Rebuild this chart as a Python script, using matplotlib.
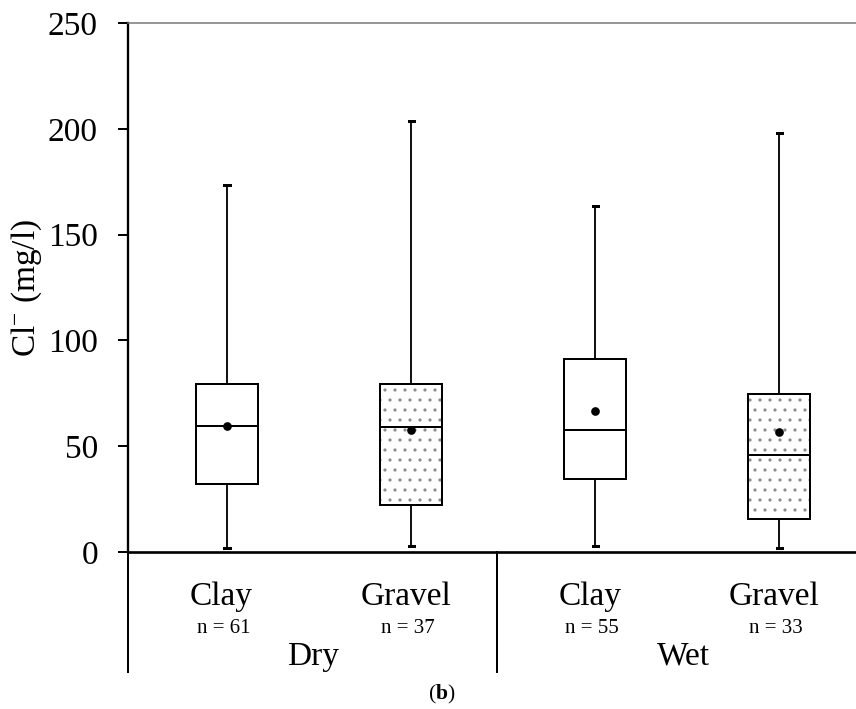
import matplotlib
matplotlib.use('Agg')
from matplotlib import pyplot as plt
import matplotlib.transforms as mtransforms
from matplotlib.patches import PathPatch

# box statistics (Cl- in mg/l)
categories = ['Clay', 'Gravel', 'Clay', 'Gravel']
n_values = [61, 37, 55, 33]
groups = ['Dry', 'Wet']
whis_low = [2, 3, 3, 2]
q1 = [32, 22, 34.5, 15.6]
medians = [59.5, 59, 57.7, 45.8]
q3 = [79.4, 79.4, 91, 74.7]
whis_high = [173.4, 203.7, 163.5, 198]
means = [59.5, 57.7, 66.6, 56.7]
hatched = [False, True, False, True]
y_ticks = [0, 50, 100, 150, 200, 250]

DPI = 120
plt.rcParams['font.family'] = ['Liberation Serif', 'DejaVu Serif']
plt.rcParams['mathtext.fontset'] = 'custom'
plt.rcParams['mathtext.rm'] = 'Liberation Serif'
plt.rcParams['mathtext.bf'] = 'Liberation Serif:bold'
plt.rcParams['mathtext.default'] = 'regular'
plt.rcParams['hatch.linewidth'] = 0.7

fig = plt.figure(figsize=(856 / DPI, 709 / DPI), dpi=DPI)
ax = fig.add_axes([128 / 856, 1 - 552 / 709, 1 - 128 / 856, (552 - 23) / 709])

stats = []
for i in range(len(categories)):
    stats.append({'med': medians[i], 'q1': q1[i], 'q3': q3[i],
                  'whislo': whis_low[i], 'whishi': whis_high[i],
                  'mean': means[i], 'fliers': []})

positions = [1, 2, 3, 4]
bp = ax.bxp(stats, positions=positions, widths=0.337, capwidths=0.028,
            showmeans=True, patch_artist=True, showfliers=False,
            boxprops=dict(facecolor='white', edgecolor='black', linewidth=1.2),
            medianprops=dict(color='black', linewidth=1.2, zorder=4),
            whiskerprops=dict(color='black', linewidth=1.1),
            capprops=dict(color='black', linewidth=1.8),
            meanprops=dict(marker='o', markerfacecolor='black',
                           markeredgecolor='black', markersize=4.2, zorder=5))
for box, h in zip(bp['boxes'], hatched):
    if h:
        # grey dots, then a black outline on top
        box.set_hatch('..')
        box.set_edgecolor('#8a8a8a')
        ax.add_patch(PathPatch(box.get_path(), fill=False, edgecolor='black',
                               linewidth=1.2, zorder=3))

ax.set_xlim(0.462, 4.416)
ax.set_ylim(0, 250)
ax.set_yticks(y_ticks)
ax.set_xticks([])
ax.tick_params(axis='y', direction='out', length=6, width=1.2, pad=12,
               labelsize=20)

ax.spines['right'].set_visible(False)
ax.spines['top'].set_color('#777777')
ax.spines['top'].set_linewidth(0.9)
ax.spines['left'].set_linewidth(1.4)
ax.spines['bottom'].set_linewidth(1.6)

ax.set_ylabel('Cl$^{-}$ (mg/l)', fontsize=20, va='center')
ax.yaxis.set_label_coords(-0.139, 0.5)

# category labels below the axis
trans = mtransforms.blended_transform_factory(ax.transData, ax.transAxes)
for pos, cat, n in zip(positions, categories, n_values):
    ax.text(pos - 0.03, -0.100, cat, transform=trans, ha='center',
            va='baseline', fontsize=20)
    ax.text(pos - 0.02, -0.153, 'n = %d' % n, transform=trans, ha='center',
            va='baseline', fontsize=12.5)

divider = 2.467
group_x = [1.467, 3.478]
for gx, g in zip(group_x, groups):
    ax.text(gx, -0.2136, g, transform=trans, ha='center', va='baseline',
            fontsize=20)

for x in [ax.get_xlim()[0], divider]:
    ax.plot([x, x], [0, -0.227], transform=trans, color='black',
            linewidth=1.2, clip_on=False)

fig.text(442 / 856, 1 - 694 / 709, r'($\mathbf{b}$)', ha='center',
         va='center', fontsize=13)

fig.savefig('out.png', dpi=DPI)
